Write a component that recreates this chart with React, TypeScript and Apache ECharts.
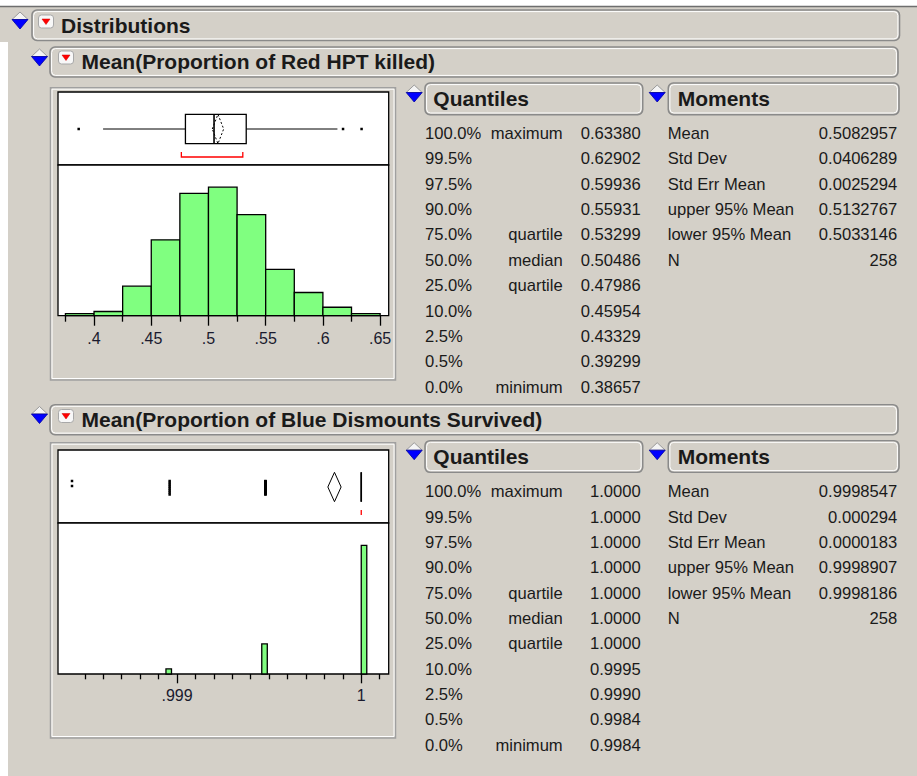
import React, { useEffect, useRef } from 'react';
import * as echarts from 'echarts';

// ---------------- DATA ----------------
// Mean(Proportion of Red HPT killed)
const redBinStarts = [0.375, 0.4, 0.425, 0.45, 0.475, 0.5, 0.525, 0.55, 0.575, 0.6, 0.625];
const redBinWidth = 0.025;
const redCounts = [1, 2, 14, 36, 58, 61, 48, 22, 11, 4, 1];
const redAxisRange = [0.3685, 0.6575];
const redMajorTicks = [0.4, 0.45, 0.5, 0.55, 0.6, 0.65];
const redTickLabels = ['.4', '.45', '.5', '.55', '.6', '.65'];
const redMinorTicks = [0.375, 0.425, 0.475, 0.525, 0.575, 0.625];
// q1, median, q3, whiskerLo, whiskerHi, mean, lower95, upper95, shortestHalfLo, shortestHalfHi
const redBoxStats = [0.47986, 0.50486, 0.53299, 0.4079, 0.6127, 0.5082957, 0.5033146, 0.5132767, 0.4763, 0.53];
const redOutliers = [0.38657, 0.6176, 0.6338];
const redOutlierCounts = [1, 1, 1];
const redQuantiles = [0.6338, 0.62902, 0.59936, 0.55931, 0.53299, 0.50486, 0.47986, 0.45954, 0.43329, 0.39299, 0.38657];
const redMoments = ['0.5082957', '0.0406289', '0.0025294', '0.5132767', '0.5033146', '258'];

// Mean(Proportion of Blue Dismounts Survived)
const blueBinStarts = [0.99894, 0.99946, 1.0];
const blueBinWidth = 0.00003;
const blueCounts = [8, 47, 201];
const blueAxisRange = [0.998354, 1.000149];
const blueMajorTicks = [0.999, 1];
const blueTickLabels = ['.999', '1'];
const blueMinorTicks = [0.9985, 0.9986, 0.9987, 0.9988, 0.9989, 0.9991, 0.9992, 0.9993, 0.9994, 0.9995, 0.9996, 0.9997, 0.9998, 0.9999, 1.0001];
const blueBoxStats = [1, 1, 1, 1, 1, 0.9998547, 0.9998186, 0.9998907, 1, 1];
const blueOutliers = [0.99843, 0.99896, 0.99948];
const blueOutlierCounts = [2, 8, 47];
const blueQuantiles = [1, 1, 1, 1, 1, 1, 1, 0.9995, 0.999, 0.9984, 0.9984];
const blueMoments = ['0.9998547', '0.000294', '0.0000183', '0.9998907', '0.9998186', '258'];

// Table labels
const quantileLevels = ['100.0%', '99.5%', '97.5%', '90.0%', '75.0%', '50.0%', '25.0%', '10.0%', '2.5%', '0.5%', '0.0%'];
const quantileNames = ['maximum', '', '', '', 'quartile', 'median', 'quartile', '', '', '', 'minimum'];
const momentLabels = ['Mean', 'Std Dev', 'Std Err Mean', 'upper 95% Mean', 'lower 95% Mean', 'N'];

// ---------------- STYLE / LAYOUT ----------------
const FONT = '"Liberation Sans", Arial, Helvetica, sans-serif';
const BG = '#d4d0c8';
const TXT = '#1a1a1a';
const TITLE_SIZE = 21;
const TABLE_SIZE = 16.6;

function txt(x: number, y: number, s: string, size: number, bold: boolean, align: string = 'left', color: string = TXT) {
  return {
    type: 'text', x, y, z: 5, silent: true,
    style: {
      text: s, fill: color,
      font: `${bold ? 'bold ' : ''}${size}px ${FONT}`,
      textAlign: align, textVerticalAlign: 'middle', align, verticalAlign: 'middle',
    },
  };
}

function headerBox(x: number, y: number, w: number, h: number) {
  return [
    { type: 'rect', z: 1, silent: true, shape: { x, y, width: w, height: h, r: 5 }, style: { fill: BG, stroke: '#8a8a8a', lineWidth: 1.6 } },
    { type: 'rect', z: 1, silent: true, shape: { x: x + 1.6, y: y + 1.6, width: w - 3.2, height: h - 3.2, r: 4 }, style: { fill: 'none', stroke: '#ffffff', lineWidth: 1 } },
  ];
}

function disclosure(cx: number, cy: number) {
  return [
    { type: 'polygon', z: 2, silent: true, shape: { points: [[cx - 8, cy], [cx, cy - 7.5], [cx + 8, cy]] }, style: { fill: '#f4f4f4', stroke: '#9a9a9a', lineWidth: 1 } },
    { type: 'polygon', z: 2, silent: true, shape: { points: [[cx - 8, cy], [cx + 8, cy], [cx, cy + 9.5]] }, style: { fill: '#0000ff', stroke: '#0000a0', lineWidth: 0.8 } },
  ];
}

function redIcon(x: number, y: number) {
  return [
    { type: 'rect', z: 2, silent: true, shape: { x, y, width: 15, height: 13, r: 3 }, style: { fill: '#f8f8f8', stroke: '#a8a8a8', lineWidth: 1 } },
    { type: 'polygon', z: 3, silent: true, shape: { points: [[x + 3.5, y + 4], [x + 11.5, y + 4], [x + 7.5, y + 9.5]] }, style: { fill: '#ff0000', stroke: '#d00000', lineWidth: 0.5 } },
  ];
}

interface Sec {
  headerY: number; headerTextY: number; triY: number; iconY: number; title: string;
  frameY: number; frameH: number; tabY: number; rowY0: number; rowStep: number;
  quantileText: string[]; momentText: string[];
}

function sectionChrome(s: Sec) {
  const els: any[] = [];
  els.push(...headerBox(50, s.headerY, 848, 30));
  els.push(...disclosure(39.5, s.triY));
  els.push(...redIcon(58.5, s.iconY));
  els.push(txt(81.5, s.headerTextY, s.title, TITLE_SIZE, true));
  // plot frame
  els.push({ type: 'rect', z: 0, silent: true, shape: { x: 50.5, y: s.frameY, width: 345, height: s.frameH }, style: { fill: BG, stroke: '#a0a0a0', lineWidth: 1.5 } });
  els.push({ type: 'rect', z: 0, silent: true, shape: { x: 52, y: s.frameY + 1.5, width: 342, height: s.frameH - 3 }, style: { fill: 'none', stroke: '#ffffff', lineWidth: 1 } });
  // Quantiles table
  els.push(...disclosure(414.2, s.tabY + 9.5));
  els.push(...headerBox(425, s.tabY, 217.7, 31.6));
  els.push(txt(433.3, s.tabY + 15.8, 'Quantiles', TITLE_SIZE, true));
  quantileLevels.forEach((lv, i) => {
    const y = s.rowY0 + i * s.rowStep;
    els.push(txt(425, y, lv, TABLE_SIZE, false));
    if (quantileNames[i]) els.push(txt(562.7, y, quantileNames[i], TABLE_SIZE, false, 'right'));
    els.push(txt(640.7, y, s.quantileText[i], TABLE_SIZE, false, 'right'));
  });
  // Moments table
  els.push(...disclosure(657.2, s.tabY + 9.5));
  els.push(...headerBox(668.3, s.tabY, 230.7, 31.6));
  els.push(txt(677.7, s.tabY + 15.8, 'Moments', TITLE_SIZE, true));
  momentLabels.forEach((lb, i) => {
    const y = s.rowY0 + i * s.rowStep;
    els.push(txt(667.7, y, lb, TABLE_SIZE, false));
    els.push(txt(897.3, y, s.momentText[i], TABLE_SIZE, false, 'right'));
  });
  return els;
}

// ---------------- RENDERERS ----------------
const histRender = (params: any, api: any) => {
  const s = api.value(0), e = api.value(1), c = api.value(2);
  const p0 = api.coord([s, c]);
  const p1 = api.coord([e, 0]);
  return {
    type: 'rect',
    shape: { x: p0[0], y: p0[1], width: p1[0] - p0[0], height: p1[1] - p0[1] },
    style: { fill: '#80ff80', stroke: '#000000', lineWidth: 1.3 },
  };
};

const boxRender = (dashed: boolean) => (params: any, api: any) => {
  const cs = params.coordSys;
  const cy = cs.y + 37;
  const X = (i: number) => api.coord([api.value(i), 0])[0];
  const q1 = X(0), med = X(1), q3 = X(2), wlo = X(3), whi = X(4), mean = X(5), ciLo = X(6), ciHi = X(7), shLo = X(8), shHi = X(9);
  const hh = 14.7;
  return {
    type: 'group',
    children: [
      { type: 'line', shape: { x1: wlo, y1: cy, x2: q1, y2: cy }, style: { stroke: '#000', lineWidth: 1 } },
      { type: 'line', shape: { x1: q3, y1: cy, x2: whi, y2: cy }, style: { stroke: '#000', lineWidth: 1 } },
      { type: 'rect', shape: { x: q1, y: cy - hh, width: q3 - q1, height: 2 * hh }, style: { fill: '#ffffff', stroke: '#000', lineWidth: 1.3 } },
      { type: 'line', shape: { x1: med, y1: cy - hh, x2: med, y2: cy + hh }, style: { stroke: '#000', lineWidth: 1.6 } },
      { type: 'polygon', shape: { points: [[ciLo, cy], [mean, cy - hh], [ciHi, cy], [mean, cy + hh]] }, style: { fill: 'none', stroke: '#000', lineWidth: 1, lineDash: dashed ? [2, 2] : null } },
      { type: 'polyline', shape: { points: [[shLo, cy + 23], [shLo, cy + 28], [shHi, cy + 28], [shHi, cy + 23]] }, style: { fill: 'none', stroke: '#ff0000', lineWidth: 1.3 } },
    ],
  };
};

const outlierRender = (params: any, api: any) => {
  const cs = params.coordSys;
  const cy = cs.y + 37;
  const x = api.coord([api.value(0), 0])[0];
  const n = api.value(1);
  const spread = n > 1 ? Math.min(13.5, (n - 1) * 5) : 0;
  const top = n > 1 ? cy - 6 : cy;
  const step = n > 1 ? spread / (n - 1) : 0;
  const children: any[] = [];
  for (let k = 0; k < n; k++) {
    children.push({ type: 'rect', shape: { x: x - 1.25, y: top + k * step - 1.25, width: 2.5, height: 2.5 }, style: { fill: '#000' } });
  }
  return { type: 'group', children };
};

function labelFor(values: number[], labels: string[]) {
  return (v: number) => {
    const i = values.findIndex((t) => Math.abs(t - v) < 1e-9);
    return i >= 0 ? labels[i] : '';
  };
}

function gridDef(top: number, height: number) {
  return { left: 58, top, width: 330.7, height, show: true, backgroundColor: '#ffffff', borderColor: '#000000', borderWidth: 1.3, z: 1 };
}

function hiddenX(grid: number, range: number[]) {
  return { type: 'value', gridIndex: grid, min: range[0], max: range[1], show: false };
}

function tickX(grid: number, range: number[], ticks: number[], len: number, labels: string[] | null, margin: number) {
  return {
    type: 'value', gridIndex: grid, min: range[0], max: range[1], position: 'bottom', z: 3,
    axisLine: { show: false },
    splitLine: { show: false },
    axisTick: { show: true, customValues: ticks, length: len, inside: false, lineStyle: { color: '#000', width: 1.3 } },
    axisLabel: labels
      ? { show: true, customValues: ticks, formatter: labelFor(ticks, labels), margin, fontSize: 16, fontFamily: FONT, color: '#1a1a2e' }
      : { show: false },
  };
}

export default function App() {
  const ref = useRef<HTMLDivElement>(null);
  useEffect(() => {
    if (!ref.current) return;
    const chart = echarts.init(ref.current, null, { renderer: 'svg' });

    const s1: Sec = {
      headerY: 47, headerTextY: 61.7, triY: 56.5, iconY: 51, title: 'Mean(Proportion of Red HPT killed)',
      frameY: 87.7, frameH: 292.3, tabY: 83, rowY0: 133.3, rowStep: 25.4,
      quantileText: redQuantiles.map((v) => v.toFixed(5)), momentText: redMoments,
    };
    const s2: Sec = {
      headerY: 404.7, headerTextY: 419.7, triY: 414, iconY: 409.5, title: 'Mean(Proportion of Blue Dismounts Survived)',
      frameY: 442.7, frameH: 295.3, tabY: 440.7, rowY0: 491.7, rowStep: 25.35,
      quantileText: blueQuantiles.map((v) => v.toFixed(4)), momentText: blueMoments,
    };

    const graphic: any[] = [
      { type: 'rect', z: 0, silent: true, shape: { x: 0, y: 7, width: 917, height: 769 }, style: { fill: BG } },
      { type: 'rect', z: 0, silent: true, shape: { x: 0, y: 42, width: 8, height: 734 }, style: { fill: '#ffffff' } },
      { type: 'line', z: 0, silent: true, shape: { x1: 0, y1: 6.5, x2: 917, y2: 6.5 }, style: { stroke: '#6e6e6e', lineWidth: 1.5 } },
      ...headerBox(32, 10, 867.5, 30.5),
      ...disclosure(20, 19.5),
      ...redIcon(38.5, 15),
      txt(61, 25, 'Distributions', TITLE_SIZE, true),
      ...sectionChrome(s1),
      ...sectionChrome(s2),
    ];

    const option: any = {
      animation: false,
      backgroundColor: '#ffffff',
      grid: [gridDef(92, 73), gridDef(165, 150.7), gridDef(450, 73), gridDef(523, 151)],
      xAxis: [
        hiddenX(0, redAxisRange),
        tickX(1, redAxisRange, redMajorTicks, 10, redTickLabels, 14.5),
        tickX(1, redAxisRange, redMinorTicks, 6, null, 0),
        hiddenX(2, blueAxisRange),
        tickX(3, blueAxisRange, blueMajorTicks, 9.3, blueTickLabels, 13),
        tickX(3, blueAxisRange, blueMinorTicks, 5.3, null, 0),
      ],
      yAxis: [
        { type: 'value', gridIndex: 0, min: 0, max: 1, show: false },
        { type: 'value', gridIndex: 1, min: 0, max: 71.5, show: false },
        { type: 'value', gridIndex: 2, min: 0, max: 1, show: false },
        { type: 'value', gridIndex: 3, min: 0, max: 236, show: false },
      ],
      series: [
        {
          type: 'custom', xAxisIndex: 1, yAxisIndex: 1, renderItem: histRender, clip: false,
          encode: { x: [0, 1], y: 2 },
          data: redBinStarts.map((s, i) => [s, s + redBinWidth, redCounts[i]]),
        },
        {
          type: 'custom', xAxisIndex: 0, yAxisIndex: 0, renderItem: boxRender(true),
          encode: { x: [0, 1, 2, 3, 4, 5, 6, 7, 8, 9] },
          data: [redBoxStats],
        },
        {
          type: 'custom', xAxisIndex: 0, yAxisIndex: 0, renderItem: outlierRender,
          encode: { x: 0 },
          data: redOutliers.map((v, i) => [v, redOutlierCounts[i]]),
        },
        {
          type: 'custom', xAxisIndex: 4, yAxisIndex: 3, renderItem: histRender, clip: false,
          encode: { x: [0, 1], y: 2 },
          data: blueBinStarts.map((s, i) => [s, s + blueBinWidth, blueCounts[i]]),
        },
        {
          type: 'custom', xAxisIndex: 3, yAxisIndex: 2, renderItem: boxRender(false),
          encode: { x: [0, 1, 2, 3, 4, 5, 6, 7, 8, 9] },
          data: [blueBoxStats],
        },
        {
          type: 'custom', xAxisIndex: 3, yAxisIndex: 2, renderItem: outlierRender,
          encode: { x: 0 },
          data: blueOutliers.map((v, i) => [v, blueOutlierCounts[i]]),
        },
      ],
      graphic,
    };
    chart.setOption(option);
    return () => chart.dispose();
  }, []);

  return <div ref={ref} style={{ position: 'absolute', left: 0, top: 0, width: 917, height: 776 }} />;
}
